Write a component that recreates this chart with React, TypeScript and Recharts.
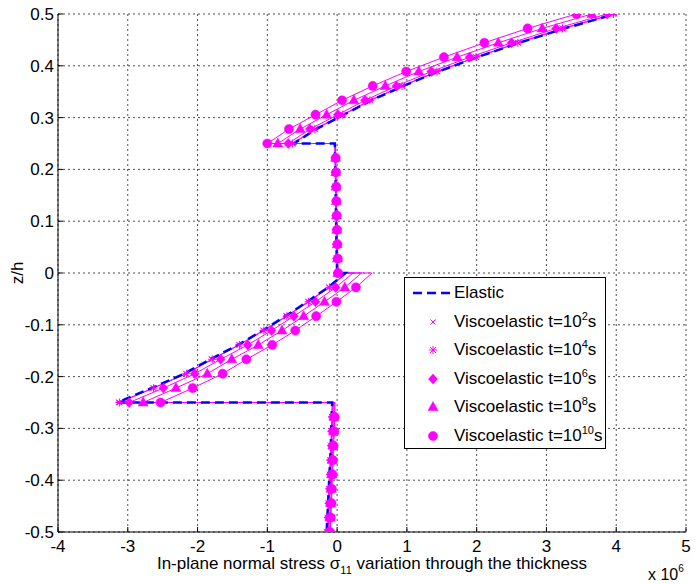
import React from "react";
import { CartesianGrid, Scatter, ScatterChart, XAxis, YAxis } from "recharts";

const MAGENTA = "#ff00ff";
const BLUE = "#0000ff";
const FONT = '"Liberation Sans", Arial, Helvetica, sans-serif';

const xTicks = [-4, -3, -2, -1, 0, 1, 2, 3, 4, 5];
const zTicks = [-0.5, -0.4, -0.3, -0.2, -0.1, 0, 0.1, 0.2, 0.3, 0.4, 0.5];

// z/h stations per layer, bottom to top
const zBottom = [-0.5, -0.4722, -0.4444, -0.4167, -0.3889, -0.3611, -0.3333, -0.3056, -0.2778, -0.25];
const zLower = [-0.25, -0.2222, -0.1944, -0.1667, -0.1389, -0.1111, -0.0833, -0.0556, -0.0278, 0];
const zCore = [0, 0.0278, 0.0556, 0.0833, 0.1111, 0.1389, 0.1667, 0.1944, 0.2222, 0.25];
const zTop = [0.25, 0.2778, 0.3056, 0.3333, 0.3611, 0.3889, 0.4167, 0.4444, 0.4722, 0.5];

// sigma_11 (x 10^6) per layer: [bottom, lower, core, top]
const elastic = [
  [-0.15, -0.14, -0.13, -0.12, -0.11, -0.1, -0.09, -0.085, -0.08, -0.07],
  [-3.15, -2.66, -2.19, -1.82, -1.42, -1.07, -0.74, -0.43, -0.13, 0.12],
  [0.0, -0.005, -0.01, -0.012, -0.015, -0.02, -0.022, -0.025, -0.03, -0.032],
  [-0.62, -0.3, 0.1, 0.49, 0.95, 1.45, 2.01, 2.61, 3.26, 3.99],
];
const visco1e2 = [
  [-0.15, -0.14, -0.13, -0.12, -0.11, -0.1, -0.09, -0.08, -0.075, -0.07],
  [-3.13, -2.64, -2.17, -1.8, -1.41, -1.06, -0.73, -0.42, -0.12, 0.13],
  [0.0, -0.005, -0.01, -0.012, -0.015, -0.02, -0.022, -0.025, -0.03, -0.032],
  [-0.63, -0.31, 0.09, 0.48, 0.94, 1.44, 2.0, 2.6, 3.25, 3.98],
];
const visco1e4 = [
  [-0.14, -0.13, -0.12, -0.11, -0.1, -0.095, -0.085, -0.08, -0.075, -0.065],
  [-3.12, -2.63, -2.16, -1.79, -1.4, -1.05, -0.72, -0.41, -0.11, 0.14],
  [0.0, -0.005, -0.01, -0.012, -0.015, -0.02, -0.022, -0.025, -0.03, -0.032],
  [-0.64, -0.32, 0.08, 0.47, 0.93, 1.43, 1.99, 2.59, 3.23, 3.96],
];
const visco1e6 = [
  [-0.13, -0.12, -0.11, -0.1, -0.09, -0.085, -0.075, -0.07, -0.06, -0.055],
  [-2.98, -2.49, -2.04, -1.67, -1.28, -0.94, -0.62, -0.31, -0.02, 0.23],
  [0.005, 0.0, -0.005, -0.01, -0.012, -0.015, -0.02, -0.022, -0.025, -0.03],
  [-0.7, -0.39, 0.01, 0.4, 0.85, 1.35, 1.9, 2.5, 3.14, 3.87],
];
const visco1e8 = [
  [-0.11, -0.1, -0.09, -0.085, -0.075, -0.07, -0.06, -0.05, -0.045, -0.04],
  [-2.78, -2.31, -1.86, -1.51, -1.13, -0.79, -0.48, -0.18, 0.11, 0.35],
  [0.01, 0.005, 0.0, -0.005, -0.01, -0.012, -0.015, -0.02, -0.022, -0.025],
  [-0.85, -0.53, -0.15, 0.24, 0.69, 1.17, 1.72, 2.31, 2.94, 3.65],
];
const visco1e10 = [
  [-0.1, -0.09, -0.08, -0.075, -0.065, -0.06, -0.05, -0.04, -0.035, -0.03],
  [-2.53, -2.07, -1.64, -1.3, -0.93, -0.6, -0.3, -0.01, 0.27, 0.5],
  [0.015, 0.01, 0.005, 0.0, -0.005, -0.01, -0.012, -0.015, -0.02, -0.022],
  [-1.0, -0.69, -0.31, 0.07, 0.51, 0.99, 1.53, 2.11, 2.73, 3.43],
];

const layerZ = [zBottom, zLower, zCore, zTop];

type Pt = { x: number; z: number };

const toLine = (layers: number[][]): Pt[] =>
  layers.flatMap((xs, i) => xs.map((x, j) => ({ x, z: layerZ[i][j] })));

// the upper interface station of the three lower layers is not marked
const toMarkers = (layers: number[][]): Pt[] =>
  layers.flatMap((xs, i) =>
    xs.slice(0, i < 3 ? 9 : 10).map((x, j) => ({ x, z: layerZ[i][j] }))
  );

// marker glyphs (MATLAB x, *, d, ^, o)
const Cross = ({ cx, cy }: any) => (
  <path
    d={`M${cx - 2.5},${cy - 2.5}L${cx + 2.5},${cy + 2.5}M${cx - 2.5},${cy + 2.5}L${cx + 2.5},${cy - 2.5}`}
    stroke={MAGENTA}
    strokeWidth={1}
    fill="none"
  />
);
const Star = ({ cx, cy }: any) => (
  <path
    d={`M${cx - 4},${cy}L${cx + 4},${cy}M${cx},${cy - 4}L${cx},${cy + 4}M${cx - 3},${cy - 3}L${cx + 3},${cy + 3}M${cx - 3},${cy + 3}L${cx + 3},${cy - 3}`}
    stroke={MAGENTA}
    strokeWidth={1}
    fill="none"
  />
);
const Diamond = ({ cx, cy }: any) => (
  <polygon
    points={`${cx},${cy - 5} ${cx + 4.5},${cy} ${cx},${cy + 5} ${cx - 4.5},${cy}`}
    fill={MAGENTA}
    stroke={MAGENTA}
    strokeWidth={0.5}
  />
);
const Triangle = ({ cx, cy }: any) => (
  <polygon
    points={`${cx},${cy - 5.5} ${cx + 5},${cy + 3.5} ${cx - 5},${cy + 3.5}`}
    fill={MAGENTA}
    stroke={MAGENTA}
    strokeWidth={0.5}
  />
);
const Dot = ({ cx, cy }: any) => (
  <circle cx={cx} cy={cy} r={4.6} fill={MAGENTA} stroke={MAGENTA} strokeWidth={0.5} />
);
const NoMark = () => <g />;

const viscoSeries = [
  { exp: "2", layers: visco1e2, Mark: Cross },
  { exp: "4", layers: visco1e4, Mark: Star },
  { exp: "6", layers: visco1e6, Mark: Diamond },
  { exp: "8", layers: visco1e8, Mark: Triangle },
  { exp: "10", layers: visco1e10, Mark: Dot },
];

// inward ticks, MATLAB style (tickSize 6 + tickMargin 2 from the axis line)
const BottomTick = (p: any) => {
  const axisY = p.y - 8;
  return (
    <g>
      <line x1={p.x} x2={p.x} y1={axisY} y2={axisY - 5} stroke="#000" />
      <text x={p.x} y={p.y} dy="0.7em" textAnchor="middle" fontSize={17} fontFamily={FONT} fill="#000">
        {p.payload.value}
      </text>
    </g>
  );
};
const LeftTick = (p: any) => {
  const axisX = p.x + 8;
  return (
    <g>
      <line x1={axisX} x2={axisX + 5} y1={p.y} y2={p.y} stroke="#000" />
      <text x={p.x + 4} y={p.y} dy="0.355em" textAnchor="end" fontSize={17} fontFamily={FONT} fill="#000">
        {p.payload.value === 0 ? "0" : p.payload.value.toFixed(1)}
      </text>
    </g>
  );
};
const TopTick = (p: any) => {
  const axisY = p.y + 8;
  return <line x1={p.x} x2={p.x} y1={axisY} y2={axisY + 5} stroke="#000" />;
};
const RightTick = (p: any) => {
  const axisX = p.x - 8;
  return <line x1={axisX} x2={axisX - 5} y1={p.y} y2={p.y} stroke="#000" />;
};

const legendRows = [
  { label: "Elastic", exp: null as string | null, Mark: null as any },
  ...viscoSeries.map((s) => ({ label: "Viscoelastic t=10", exp: s.exp, Mark: s.Mark })),
];

function LegendBox() {
  return (
    <div
      style={{
        position: "absolute",
        left: 404,
        top: 277,
        width: 202,
        height: 172,
        border: "1px solid #000",
        background: "#fff",
        fontFamily: FONT,
        fontSize: 17,
        color: "#000",
        boxSizing: "border-box",
      }}
    >
      {legendRows.map((row, i) => (
        <div
          key={i}
          style={{ position: "absolute", left: 0, top: 4 + i * 28.6, height: 22, width: "100%" }}
        >
          <svg width={46} height={22} style={{ position: "absolute", left: 6, top: 0 }}>
            {row.Mark ? (
              <row.Mark cx={22} cy={11} />
            ) : (
              <line x1={2} x2={39} y1={11} y2={11} stroke={BLUE} strokeWidth={2.5} strokeDasharray="9 5" />
            )}
          </svg>
          <span style={{ position: "absolute", left: 49, top: 1, whiteSpace: "nowrap", lineHeight: "20px" }}>
            {row.label}
            {row.exp && (
              <>
                <sup style={{ fontSize: 11, verticalAlign: 0, position: "relative", top: -7 }}>{row.exp}</sup>s
              </>
            )}
          </span>
        </div>
      ))}
    </div>
  );
}

export default function App() {
  return (
    <div style={{ position: "absolute", left: 0, top: 0, width: 696, height: 584, background: "#fff" }}>
      <ScatterChart width={696} height={584} margin={{ top: 14, right: 10, bottom: 0, left: 0 }}>
        <CartesianGrid stroke="#222" strokeDasharray="2 3" strokeWidth={0.8} />
        <XAxis
          type="number"
          dataKey="x"
          domain={[-4, 5]}
          ticks={xTicks}
          interval={0}
          allowDataOverflow
          height={52}
          tickSize={6}
          tickMargin={2}
          tickLine={false}
          tick={<BottomTick />}
          axisLine={{ stroke: "#000" }}
        />
        <XAxis
          xAxisId="top"
          orientation="top"
          type="number"
          domain={[-4, 5]}
          ticks={xTicks}
          interval={0}
          height={0}
          tickSize={6}
          tickMargin={2}
          tickLine={false}
          tick={<TopTick />}
          axisLine={{ stroke: "#000" }}
        />
        <YAxis
          type="number"
          dataKey="z"
          domain={[-0.5, 0.5]}
          ticks={zTicks}
          interval={0}
          allowDataOverflow
          width={58}
          tickSize={6}
          tickMargin={2}
          tickLine={false}
          tick={<LeftTick />}
          axisLine={{ stroke: "#000" }}
        />
        <YAxis
          yAxisId="right"
          orientation="right"
          type="number"
          domain={[-0.5, 0.5]}
          ticks={zTicks}
          interval={0}
          width={0}
          tickSize={6}
          tickMargin={2}
          tickLine={false}
          tick={<RightTick />}
          axisLine={{ stroke: "#000" }}
        />
        {viscoSeries.map((s) => (
          <Scatter
            key={`line-${s.exp}`}
            data={toLine(s.layers)}
            line={{ stroke: MAGENTA, strokeWidth: 1 }}
            lineType="joint"
            shape={NoMark}
            isAnimationActive={false}
          />
        ))}
        <Scatter
          data={toLine(elastic)}
          line={{ stroke: BLUE, strokeWidth: 2.5, strokeDasharray: "9 5" }}
          lineType="joint"
          shape={NoMark}
          isAnimationActive={false}
        />
        {viscoSeries.map((s) => (
          <Scatter
            key={`mark-${s.exp}`}
            data={toMarkers(s.layers)}
            shape={s.Mark}
            isAnimationActive={false}
          />
        ))}
      </ScatterChart>

      <LegendBox />

      <div
        style={{
          position: "absolute",
          left: 18,
          top: 273,
          transform: "translate(-50%, -50%) rotate(-90deg)",
          fontFamily: FONT,
          fontSize: 17,
          whiteSpace: "nowrap",
        }}
      >
        z/h
      </div>
      <div
        style={{
          position: "absolute",
          left: 372,
          top: 555,
          transform: "translateX(-50%)",
          fontFamily: FONT,
          fontSize: 17,
          whiteSpace: "nowrap",
          lineHeight: "18px",
        }}
      >
        In-plane normal stress σ
        <sub style={{ fontSize: 11, verticalAlign: 0, position: "relative", top: 5 }}>11</sub> variation through
        the thickness
      </div>
      <div
        style={{
          position: "absolute",
          left: 648,
          top: 566,
          fontFamily: FONT,
          fontSize: 16,
          whiteSpace: "nowrap",
          lineHeight: "18px",
        }}
      >
        x 10
        <sup style={{ fontSize: 10, verticalAlign: 0, position: "relative", top: -8 }}>6</sup>
      </div>
    </div>
  );
}
